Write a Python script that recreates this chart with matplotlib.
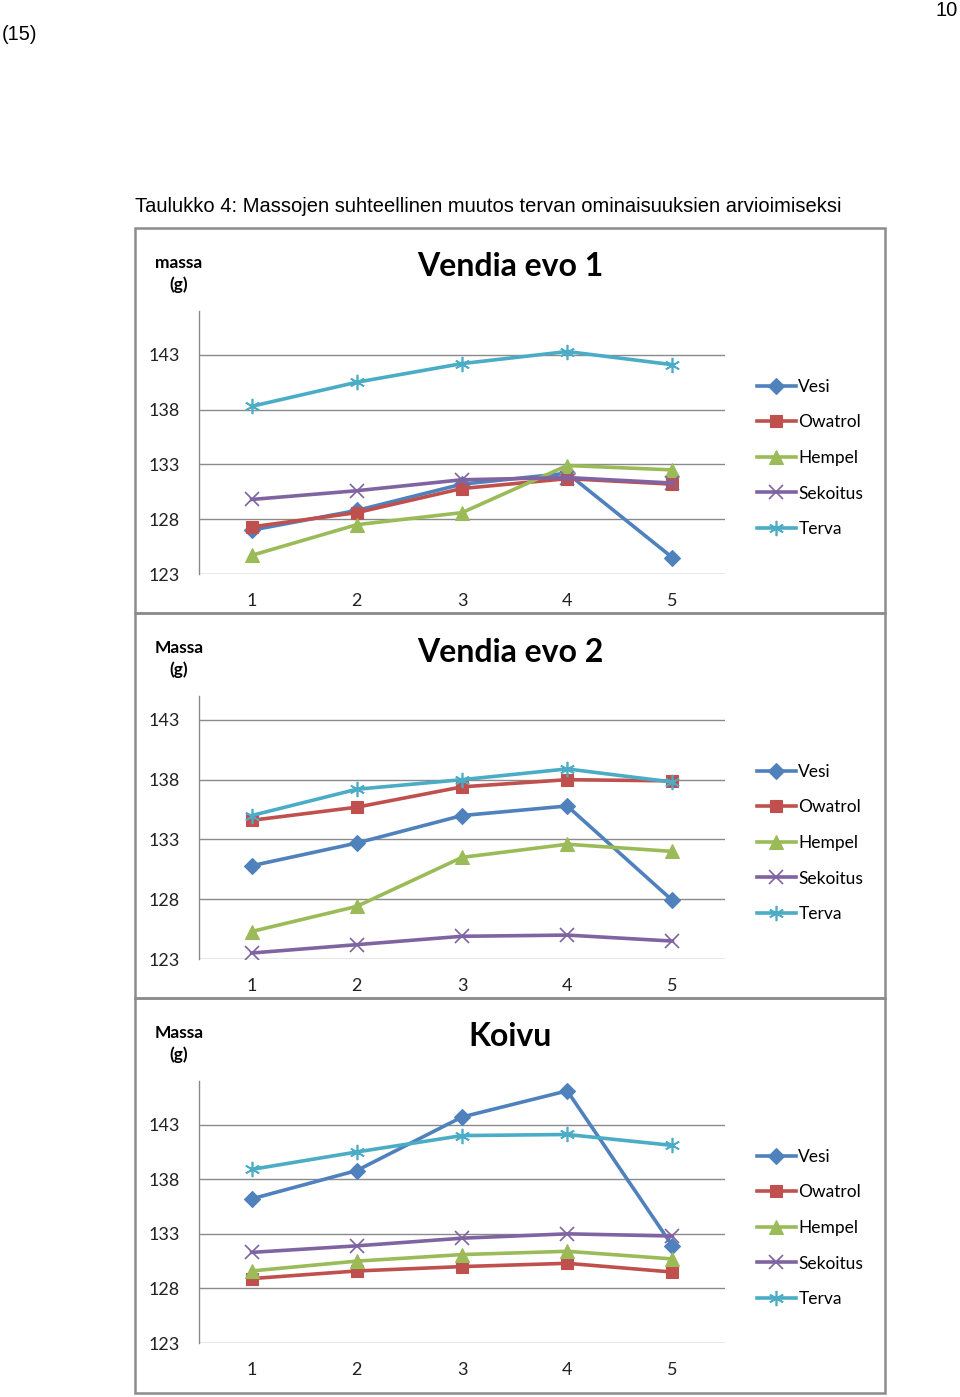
import matplotlib.pyplot as plt
from matplotlib.patches import Rectangle

W, H = 960, 1397

series_names = ["Vesi", "Owatrol", "Hempel", "Sekoitus", "Terva"]
colors = ["#4F81BD", "#C0504D", "#9BBB59", "#8064A2", "#4BACC6"]
markers = ["D", "s", "^", "x", (6, 2, 0)]
marker_sizes = [8.5, 9, 9.5, 10, 11]
measurements = [1, 2, 3, 4, 5]
y_ticks = [123, 128, 133, 138, 143]

# Vendia evo 1
evo1_vesi = [127.0, 128.8, 131.2, 132.2, 124.5]
evo1_owatrol = [127.3, 128.6, 130.8, 131.7, 131.2]
evo1_hempel = [124.7, 127.5, 128.6, 132.9, 132.5]
evo1_sekoitus = [129.8, 130.6, 131.6, 131.8, 131.3]
evo1_terva = [138.3, 140.5, 142.2, 143.3, 142.1]

# Vendia evo 2
evo2_vesi = [130.8, 132.7, 135.0, 135.8, 127.9]
evo2_owatrol = [134.6, 135.7, 137.4, 138.0, 137.9]
evo2_hempel = [125.3, 127.4, 131.5, 132.6, 132.0]
evo2_sekoitus = [123.5, 124.2, 124.9, 125.0, 124.5]
evo2_terva = [135.0, 137.2, 138.0, 138.9, 137.8]

# Koivu
koivu_vesi = [136.2, 138.8, 143.7, 146.1, 131.9]
koivu_owatrol = [128.9, 129.6, 130.0, 130.3, 129.5]
koivu_hempel = [129.6, 130.5, 131.1, 131.4, 130.7]
koivu_sekoitus = [131.3, 131.9, 132.6, 133.0, 132.8]
koivu_terva = [138.9, 140.5, 142.0, 142.1, 141.1]

panels = [
    {
        "title": "Vendia evo 1",
        "ylabel": "massa\n(g)",
        "data": [evo1_vesi, evo1_owatrol, evo1_hempel, evo1_sekoitus, evo1_terva],
        "ymax": 147,
        "box": (228, 613),
        "axes": (311, 574),
    },
    {
        "title": "Vendia evo 2",
        "ylabel": "Massa\n(g)",
        "data": [evo2_vesi, evo2_owatrol, evo2_hempel, evo2_sekoitus, evo2_terva],
        "ymax": 145,
        "box": (613, 998),
        "axes": (696, 959),
    },
    {
        "title": "Koivu",
        "ylabel": "Massa\n(g)",
        "data": [koivu_vesi, koivu_owatrol, koivu_hempel, koivu_sekoitus, koivu_terva],
        "ymax": 147,
        "box": (998, 1393),
        "axes": (1081, 1343),
    },
]

CHART_FONT = "Lato"
PAGE_FONT = "Liberation Sans"


def fx(px):
    return px / W


def fy(py):
    return 1 - py / H


def draw_panel(fig, panel):
    box_top, box_bottom = panel["box"]
    fig.patches.append(
        Rectangle(
            (fx(135), fy(box_bottom)),
            fx(885) - fx(135),
            fy(box_top) - fy(box_bottom),
            transform=fig.transFigure,
            fill=False,
            edgecolor="#8c8c8c",
            linewidth=1.8,
        )
    )

    ax_top, ax_bottom = panel["axes"]
    left, right = 199, 725
    ax = fig.add_axes(
        [fx(left), fy(ax_bottom), fx(right) - fx(left), fy(ax_top) - fy(ax_bottom)]
    )

    for values, name, color, marker, size in zip(
        panel["data"], series_names, colors, markers, marker_sizes
    ):
        thin = marker == "x" or isinstance(marker, tuple)
        ax.plot(
            measurements,
            values,
            color=color,
            linewidth=2.6,
            marker=marker,
            markersize=size,
            markeredgewidth=1.2 if thin else 0.8,
            markeredgecolor=color,
            label=name,
            zorder=3,
        )

    ax.set_xlim(0.5, 5.5)
    ax.set_ylim(123, panel["ymax"])
    ax.set_xticks(measurements)
    ax.set_yticks(y_ticks)
    ax.grid(axis="y", color="#8a8a8a", linewidth=1.0)
    ax.set_axisbelow(True)
    for side in ("top", "right", "bottom"):
        ax.spines[side].set_visible(False)
    ax.spines["left"].set_color("#8a8a8a")
    ax.spines["left"].set_linewidth(1.0)
    ax.tick_params(length=0, labelsize=13, labelcolor="#222222")
    ax.tick_params(axis="x", pad=14)
    ax.tick_params(axis="y", pad=14)
    for label in ax.get_xticklabels() + ax.get_yticklabels():
        label.set_fontfamily(CHART_FONT)

    fig.text(
        fx(510),
        fy(box_top + 39),
        panel["title"],
        ha="center",
        va="center",
        fontsize=23,
        fontweight="bold",
        fontfamily=CHART_FONT,
    )
    fig.text(
        fx(179),
        fy(box_top + 46),
        panel["ylabel"],
        ha="center",
        va="center",
        fontsize=12.5,
        fontweight="bold",
        fontfamily=CHART_FONT,
        linespacing=1.45,
    )

    legend_top = ax_top + 59
    fig.legend(
        *ax.get_legend_handles_labels(),
        loc="upper left",
        bbox_to_anchor=(fx(748), fy(legend_top)),
        frameon=False,
        prop={"family": CHART_FONT, "size": 12.5},
        handlelength=2.25,
        handletextpad=0.15,
        labelspacing=1.13,
        numpoints=1,
        borderpad=0,
    )


def main() -> None:
    fig = plt.figure(figsize=(W / 100, H / 100), dpi=100)

    fig.text(fx(2), fy(34), "(15)", ha="left", va="center", fontsize=14.5,
             fontfamily=PAGE_FONT)
    fig.text(fx(958), fy(11), "10", ha="right", va="center", fontsize=14.5,
             fontfamily=PAGE_FONT)
    fig.text(
        fx(135),
        fy(206),
        "Taulukko 4: Massojen suhteellinen muutos tervan ominaisuuksien arvioimiseksi",
        ha="left",
        va="center",
        fontsize=14.5,
        fontfamily=PAGE_FONT,
    )

    for panel in panels:
        draw_panel(fig, panel)

    fig.savefig("out.png", dpi=100)
    plt.close(fig)


if __name__ == "__main__":
    main()
